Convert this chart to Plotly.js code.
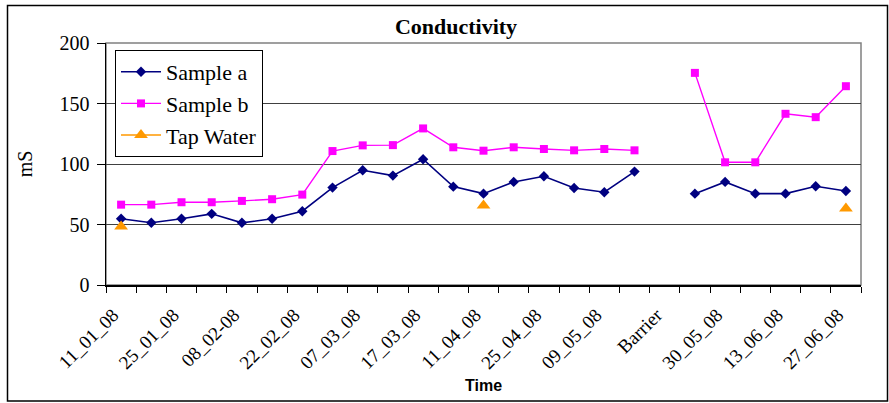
<!DOCTYPE html>
<html>
<head>
<meta charset="utf-8">
<script src="https://cdn.plot.ly/plotly-3.0.1.min.js"></script>
<style>html,body{margin:0;padding:0;background:#fff;}#chart{width:889px;height:403px;}</style>
</head>
<body>
<div id="chart"></div>
<script>
// ---- data ----
const categories = ['11_01_08','', '25_01_08','', '08_02-08','', '22_02_08','', '07_03_08','',
  '17_03_08','', '11_04_08','', '25_04_08','', '09_05_08','', 'Barrier','', '30_05_08','',
  '13_06_08','', '27_06_08'];
const sampleA = [54.7, 51.4, 54.7, 58.8, 51.4, 54.7, 61, 80.5, 94.8, 90.4, 103.9, 81.3, 75.5,
  85.2, 89.9, 80.2, 76.7, 93.7, null, 75.5, 85.2, 75.5, 75.5, 81.6, 77.7];
const sampleB = [66.4, 66.4, 68.4, 68.4, 69.5, 70.9, 74.7, 110.7, 115.4, 115.6, 129.4, 113.8, 111,
  113.8, 112.4, 111.3, 112.4, 111.3, null, 175.3, 101.4, 101.4, 141.5, 138.7, 164.3];
const tapWater = [48.3, null, null, null, null, null, null, null, null, null, null, null, 65.6,
  null, null, null, null, null, null, null, null, null, null, null, 63.2];
const yTicks = [0, 50, 100, 150, 200];

// ---- build ----
const xs = categories.map((_, i) => i);
const tickvals = xs.filter(i => categories[i] !== '');
const ticktext = tickvals.map(i => categories[i]);
const serif = '"Liberation Serif", "Times New Roman", serif';
const sans = '"Liberation Sans", Arial, sans-serif';

const traces = [
  {x: xs, y: sampleA, name: 'Sample a', legendgroup: 'a', mode: 'lines+markers',
   line: {color: '#000080', width: 1.6}, marker: {symbol: 'diamond', size: 8, color: '#000080'}},
  {x: xs, y: sampleB, name: 'Sample b', legendgroup: 'b', mode: 'lines+markers',
   line: {color: '#FF00FF', width: 1.4}, marker: {symbol: 'square', size: 8, color: '#FF00FF'}},
  {x: xs, y: tapWater, name: 'Tap Water', legendgroup: 'c', mode: 'lines+markers',
   line: {color: '#FF9900', width: 1.4}, marker: {symbol: 'triangle-up', size: 12, color: '#FF9900'}}
];

const L = 106, R = 861, T = 43, B = 285, W = 889, H = 403;
const pw = R - L, ph = B - T;
const px2x = p => (p - L) / pw;
const py2y = p => (B - p) / ph;

const layout = {
  width: W, height: H,
  margin: {l: L, r: W - R, t: T, b: H - B},
  paper_bgcolor: '#fff', plot_bgcolor: '#fff',
  font: {family: serif, size: 20, color: '#000'},
  showlegend: true,
  title: {text: '<b>Conductivity</b>', font: {family: serif, size: 22, color: '#000'},
    xref: 'container', yref: 'container', x: 456 / W, y: 1 - 26 / H, xanchor: 'center', yanchor: 'middle'},
  xaxis: {
    range: [-0.5, categories.length - 0.5], tickmode: 'array', tickvals: tickvals, ticktext: ticktext,
    tickangle: -45, tickfont: {family: serif, size: 19, color: '#000'}, ticks: '',
    ticklabelstandoff: 10, ticklabelshift: -8,
    minor: {tick0: -0.5, dtick: 1, ticks: 'outside', ticklen: 6, tickcolor: '#000', tickwidth: 1, showgrid: false},
    showline: true, linecolor: '#000', linewidth: 1.5, showgrid: false, zeroline: false,
    title: {text: '<b>Time</b>', font: {family: sans, size: 16, color: '#000'}, standoff: 7}
  },
  yaxis: {
    range: [0, 200], tickmode: 'array', tickvals: yTicks, ticks: 'outside', ticklen: 8, tickcolor: '#000',
    tickfont: {family: serif, size: 20, color: '#000'}, ticklabelstandoff: 3,
    showline: true, linecolor: '#000', linewidth: 1.5, showgrid: true, gridcolor: '#404040', gridwidth: 1,
    zeroline: false,
    title: {text: 'mS', font: {family: serif, size: 20, color: '#000'}, standoff: 21}
  },
  legend: {x: px2x(115), y: py2y(50), xanchor: 'left', yanchor: 'top', bgcolor: '#fff',
    bordercolor: '#000', borderwidth: 1, font: {family: serif, size: 22, color: '#000'},
    tracegroupgap: 0, itemwidth: 40},
  shapes: [
    {type: 'rect', xref: 'paper', yref: 'paper', x0: 0, x1: 1, y0: 0, y1: 1,
     line: {color: '#808080', width: 1.5}, layer: 'below'},
    {type: 'rect', xref: 'paper', yref: 'paper', x0: px2x(7.5), x1: px2x(887.5), y0: py2y(401), y1: py2y(5.5),
     line: {color: '#000', width: 1.5}, layer: 'below'}
  ]
};

Plotly.newPlot('chart', traces, layout, {displayModeBar: false, staticPlot: true});
</script>
</body>
</html>
